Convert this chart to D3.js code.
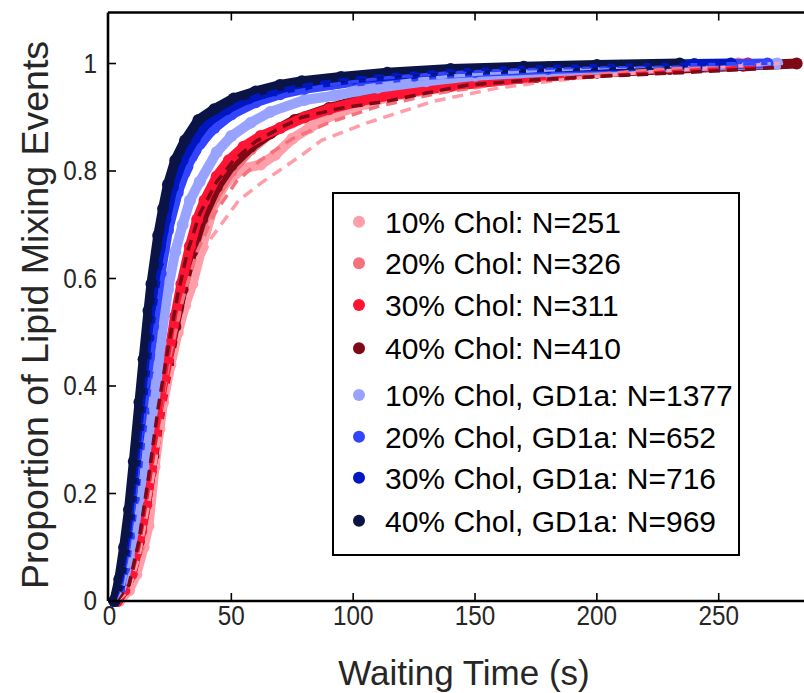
<!DOCTYPE html>
<html>
<head>
<meta charset="utf-8">
<script src="https://cdn.jsdelivr.net/npm/d3@7"></script>
<style>
  html, body { margin: 0; padding: 0; background: #fff; }
  svg text { font-family: "Liberation Sans", Arial, Helvetica, sans-serif; }
</style>
</head>
<body>
<div id="chart"></div>
<script>
// series labels and colours (legend order)
const labels = [
  "10% Chol: N=251", "20% Chol: N=326", "30% Chol: N=311", "40% Chol: N=410",
  "10% Chol, GD1a: N=1377", "20% Chol, GD1a: N=652", "30% Chol, GD1a: N=716", "40% Chol, GD1a: N=969"
];
const colors = ["#ff9ea8", "#f4727c", "#ff1533", "#7d0a16", "#98a2ff", "#3344ff", "#0017c2", "#0b1446"];

// measured cumulative proportions [time (s), proportion]
const chol10 = [[4,0],[8,0.02],[11,0.05],[14,0.1],[16,0.14],[18.5,0.25],[20.5,0.32],[22,0.37],[25,0.44],[28,0.5],[31,0.55],[34,0.59],[38,0.66],[43,0.74],[48,0.78],[55,0.805],[62,0.812],[68,0.83],[75,0.86],[82,0.88],[92,0.905],[105,0.925],[114,0.937],[130,0.95],[150,0.963],[175,0.975],[200,0.985],[230,0.993],[262,1]];
const chol20 = [[3,0],[6,0.02],[9,0.05],[12,0.1],[15,0.18],[18,0.28],[21,0.37],[24,0.45],[27,0.52],[30,0.58],[34,0.65],[38,0.7],[43,0.75],[50,0.8],[58,0.84],[66,0.87],[75,0.89],[90,0.915],[110,0.94],[130,0.955],[155,0.968],[180,0.978],[210,0.988],[240,0.995],[258,1]];
const chol30 = [[3,0],[6,0.02],[9,0.05],[11,0.09],[13,0.13],[15,0.18],[17,0.24],[19,0.31],[21.3,0.37],[24,0.45],[27,0.53],[29.5,0.59],[33,0.66],[36,0.71],[39,0.745],[44,0.79],[49,0.82],[55,0.845],[62,0.865],[70,0.88],[80,0.9],[90,0.915],[103,0.93],[120,0.945],[140,0.958],[165,0.97],[190,0.98],[220,0.99],[245,0.996],[262,1]];
const chol40 = [[3,0],[6,0.02],[9,0.05],[12,0.11],[15,0.18],[18,0.27],[21,0.36],[24,0.44],[27,0.51],[30,0.58],[34,0.65],[38,0.71],[44,0.77],[50,0.81],[58,0.845],[66,0.87],[76,0.895],[90,0.917],[105,0.935],[125,0.95],[150,0.965],[175,0.975],[200,0.983],[230,0.99],[260,0.996],[282,1]];
const gd10 = [[2,0],[4,0.015],[6,0.04],[8,0.08],[10,0.13],[12,0.19],[14,0.25],[16,0.31],[18.5,0.37],[21,0.48],[24,0.58],[27,0.65],[30,0.7],[33,0.745],[37,0.78],[44,0.835],[50,0.865],[58,0.89],[66,0.91],[80,0.932],[92,0.94],[110,0.955],[130,0.967],[150,0.977],[180,0.985],[210,0.991],[240,0.995],[274,1]];
const gd20 = [[2,0],[4,0.02],[6,0.06],[8,0.12],[10,0.19],[12,0.27],[14,0.35],[16,0.43],[18,0.51],[21,0.61],[24,0.69],[28,0.76],[32,0.81],[37,0.85],[43,0.88],[50,0.905],[60,0.928],[70,0.943],[80,0.953],[100,0.966],[125,0.977],[150,0.984],[180,0.99],[210,0.994],[240,0.997],[270,1]];
const gd30 = [[2,0],[4,0.03],[6,0.08],[8,0.14],[10,0.22],[12,0.31],[14,0.4],[16,0.49],[18,0.57],[20,0.63],[23,0.71],[26,0.77],[30,0.82],[35,0.86],[40,0.89],[48,0.915],[57,0.935],[68,0.95],[80,0.96],[100,0.972],[125,0.982],[150,0.988],[180,0.993],[210,0.996],[240,0.999],[255,1]];
const gd40 = [[2,0],[4,0.04],[6,0.1],[8,0.17],[10,0.26],[12.3,0.37],[14,0.45],[16,0.54],[17.2,0.59],[20,0.68],[22,0.73],[24,0.775],[27,0.82],[31,0.857],[36.5,0.895],[43,0.915],[51,0.935],[60,0.948],[70,0.96],[79,0.967],[95,0.975],[114,0.983],[140,0.99],[170,0.994],[200,0.997],[234,1]];

// fitted curves (dashed)
const fit10 = [[3,0],[8,0.02],[12,0.08],[16,0.18],[20,0.29],[25,0.41],[30,0.52],[34,0.6],[42,0.677],[53,0.745],[62,0.777],[79,0.83],[87,0.857],[106,0.89],[133,0.93],[160,0.955],[190,0.972],[220,0.984],[250,0.993],[275,1]];
const fit20 = [[3,0],[8,0.03],[12,0.1],[16,0.21],[20,0.33],[25,0.46],[30,0.56],[36,0.65],[43,0.72],[52,0.78],[62,0.82],[75,0.86],[90,0.89],[110,0.92],[135,0.945],[160,0.962],[190,0.976],[220,0.987],[250,0.995],[270,1]];
const fit30 = [[3,0],[8,0.03],[12,0.1],[16,0.21],[20,0.33],[24,0.45],[28,0.56],[33,0.66],[38,0.73],[45,0.79],[52,0.83],[60,0.86],[70,0.885],[85,0.91],[98,0.925],[115,0.94],[133,0.95],[160,0.963],[190,0.973],[220,0.982],[250,0.99],[265,0.995]];
const fit40 = [[3,0],[8,0.03],[12,0.11],[16,0.23],[20,0.36],[24,0.47],[28,0.57],[32,0.65],[37,0.72],[44,0.78],[51,0.82],[60,0.855],[70,0.88],[79,0.9],[95,0.917],[114,0.93],[130,0.945],[147,0.96],[175,0.97],[205,0.977],[235,0.983],[265,0.99],[280,0.995]];
const fitGd10 = [[2,0],[5,0.02],[8,0.07],[11,0.16],[14,0.27],[17,0.38],[20,0.48],[24,0.59],[28,0.67],[33,0.74],[39,0.8],[46,0.845],[55,0.88],[66,0.91],[80,0.933],[100,0.955],[125,0.97],[150,0.98],[180,0.988],[220,0.995],[274,1]];
const fitGd20 = [[2,0],[5,0.03],[8,0.1],[11,0.21],[14,0.34],[17,0.46],[21,0.59],[25,0.69],[30,0.77],[36,0.83],[43,0.875],[52,0.905],[62,0.928],[75,0.947],[90,0.96],[110,0.972],[140,0.983],[170,0.99],[210,0.995],[270,1]];
const fitGd30 = [[2,0],[5,0.04],[8,0.12],[11,0.24],[14,0.37],[17,0.5],[20,0.61],[24,0.71],[28,0.78],[33,0.84],[40,0.885],[50,0.92],[60,0.94],[75,0.956],[90,0.967],[110,0.977],[140,0.987],[170,0.993],[210,0.997],[255,1]];
const fitGd40 = [[2,0],[5,0.05],[8,0.15],[11,0.28],[14,0.42],[17,0.56],[20,0.67],[24,0.77],[28,0.83],[33,0.875],[40,0.91],[50,0.935],[60,0.952],[75,0.965],[90,0.974],[110,0.982],[140,0.99],[170,0.995],[200,0.998],[235,1]];

const dataSets = [chol10, chol20, chol30, chol40, gd10, gd20, gd30, gd40];
const fitSets = [fit10, fit20, fit30, fit40, fitGd10, fitGd20, fitGd30, fitGd40];
// stacking order of the dot bands (40% Chol sits under 30% Chol)
const drawOrder = [0, 1, 3, 2, 4, 5, 6, 7];

const xTicks = [0, 50, 100, 150, 200, 250];
const yTicks = [0, 0.2, 0.4, 0.6, 0.8, 1];

const W = 804, H = 693;
const plotL = 108, plotR = 804, plotT = 12.5, plotB = 601;

const svg = d3.select("#chart").append("svg")
  .attr("width", W)
  .attr("height", H);

const x = d3.scaleLinear().domain([0, 285]).range([109.5, 804]);
const y = d3.scaleLinear().domain([0, 1.0949]).range([601, 12.5]);

const line = d3.line().x(d => x(d[0])).y(d => y(d[1]));

// dot bands
drawOrder.forEach(i => {
  const pts = dataSets[i];
  const g = svg.append("g");
  g.append("path")
    .attr("d", line(pts))
    .attr("fill", "none")
    .attr("stroke", colors[i])
    .attr("stroke-width", 10)
    .attr("stroke-linejoin", "round")
    .attr("stroke-linecap", "round");
  g.selectAll("circle")
    .data(pts)
    .join("circle")
    .attr("cx", d => x(d[0]))
    .attr("cy", d => y(d[1]))
    .attr("r", 6)
    .attr("fill", colors[i]);
});

// dashed fits
fitSets.forEach((pts, i) => {
  svg.append("path")
    .attr("d", line(pts))
    .attr("fill", "none")
    .attr("stroke", colors[i])
    .attr("stroke-width", 3.5)
    .attr("stroke-dasharray", "11,7");
});

// axes box (right edge falls off the canvas)
const axisG = svg.append("g");
axisG.append("line").attr("x1", plotL).attr("x2", plotR).attr("y1", plotB).attr("y2", plotB);
axisG.append("line").attr("x1", plotL).attr("x2", plotR).attr("y1", plotT).attr("y2", plotT);
axisG.append("line").attr("x1", plotL).attr("x2", plotL).attr("y1", plotT).attr("y2", plotB);
axisG.selectAll("line").attr("stroke", "#000").attr("stroke-width", 2.6);

// inward ticks
xTicks.slice(1).forEach(t => {
  axisG.append("line").attr("x1", x(t)).attr("x2", x(t)).attr("y1", plotB).attr("y2", plotB - 8)
    .attr("stroke", "#000").attr("stroke-width", 1.6);
  axisG.append("line").attr("x1", x(t)).attr("x2", x(t)).attr("y1", plotT).attr("y2", plotT + 8)
    .attr("stroke", "#000").attr("stroke-width", 1.6);
});
yTicks.slice(1).forEach(t => {
  axisG.append("line").attr("x1", plotL).attr("x2", plotL + 8).attr("y1", y(t)).attr("y2", y(t))
    .attr("stroke", "#000").attr("stroke-width", 1.6);
});

// tick labels (slightly condensed, like the original)
svg.append("g").selectAll("text")
  .data(xTicks)
  .join("text")
  .attr("transform", d => `translate(${x(d)},625) scale(0.9,1)`)
  .attr("text-anchor", "middle")
  .attr("font-size", 27)
  .attr("fill", "#262626")
  .text(d => d);

svg.append("g").selectAll("text")
  .data(yTicks)
  .join("text")
  .attr("transform", d => `translate(97,${y(d)}) scale(0.9,1)`)
  .attr("dy", "0.35em")
  .attr("text-anchor", "end")
  .attr("font-size", 27)
  .attr("fill", "#262626")
  .text(d => d3.format("~g")(d));

// axis titles
svg.append("text")
  .attr("x", 464)
  .attr("y", 685)
  .attr("text-anchor", "middle")
  .attr("font-size", 35)
  .attr("fill", "#262626")
  .text("Waiting Time (s)");

svg.append("text")
  .attr("transform", "translate(48,315) rotate(-90)")
  .attr("text-anchor", "middle")
  .attr("font-size", 37.5)
  .attr("fill", "#262626")
  .text("Proportion of Lipid Mixing Events");

// legend
const legendRows = [221.7, 263.3, 305, 348.3, 395, 436.7, 477.7, 520.7];
const legend = svg.append("g");
legend.append("rect")
  .attr("x", 333).attr("y", 193)
  .attr("width", 406).attr("height", 362)
  .attr("fill", "#fff")
  .attr("stroke", "#000")
  .attr("stroke-width", 2);
labels.forEach((lab, i) => {
  legend.append("circle")
    .attr("cx", 359).attr("cy", legendRows[i])
    .attr("r", 6).attr("fill", colors[i]);
  legend.append("text")
    .attr("x", 385).attr("y", legendRows[i])
    .attr("dy", "0.36em")
    .attr("font-size", 30)
    .attr("fill", "#000")
    .text(lab);
});
</script>
</body>
</html>
